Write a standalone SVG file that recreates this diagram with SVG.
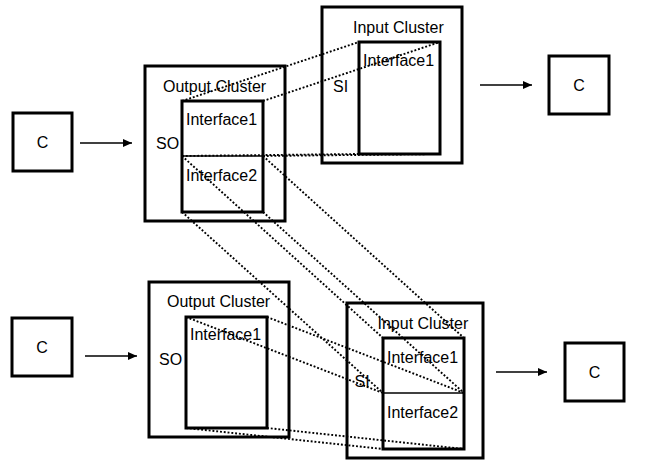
<svg xmlns="http://www.w3.org/2000/svg" width="646" height="473" viewBox="0 0 646 473">
<style>
  .box{fill:none;stroke:#000;stroke-width:3}
  .div{stroke:#000;stroke-width:1.5}
  .lbl{font-family:"Liberation Sans",Arial,sans-serif;font-size:16px;fill:#000}
  .c{font-family:"Liberation Sans",Arial,sans-serif;font-size:16px;fill:#000;text-anchor:middle}
  .dot{fill:none;stroke:#000;stroke-width:1.9;stroke-dasharray:1.9 1.9}
  .arr{fill:none;stroke:#000;stroke-width:1.5}
</style>
<defs>
  <marker id="ah" markerUnits="userSpaceOnUse" markerWidth="10" markerHeight="10" viewBox="0 0 10 10" refX="9" refY="5" orient="auto">
    <path d="M0,1 L9,5 L0,9 Z" fill="#000"/>
  </marker>
</defs>
<rect width="646" height="473" fill="#fff"/>

<g id="c-top-left">
  <rect class="box" x="13" y="113" width="59" height="58"/>
  <text class="c" x="42.5" y="148">C</text>
</g>
<g id="c-bottom-left">
  <rect class="box" x="12" y="318" width="60" height="58"/>
  <text class="c" x="42" y="353">C</text>
</g>
<g id="c-top-right">
  <rect class="box" x="549" y="56" width="60" height="58"/>
  <text class="c" x="579" y="91">C</text>
</g>
<g id="c-bottom-right">
  <rect class="box" x="565" y="343" width="59" height="58"/>
  <text class="c" x="594.5" y="378">C</text>
</g>

<g id="top-output-cluster">
  <rect class="box" x="145" y="66" width="140" height="155"/>
  <text class="lbl" x="163" y="91.5">Output Cluster</text>
  <text class="lbl" x="156" y="149">SO</text>
  <g id="top-output-interfaces">
    <rect class="box" x="182" y="101" width="81" height="111"/>
    <line class="div" x1="182" y1="156" x2="263" y2="156"/>
    <text class="lbl" x="186" y="125">Interface1</text>
    <text class="lbl" x="186" y="181">Interface2</text>
  </g>
</g>

<g id="top-input-cluster">
  <rect class="box" x="322" y="7" width="140" height="156"/>
  <text class="lbl" x="353" y="33">Input Cluster</text>
  <text class="lbl" x="333" y="91.5">SI</text>
  <g id="top-input-interface">
    <rect class="box" x="359" y="42" width="81" height="112"/>
    <text class="lbl" x="363" y="66">Interface1</text>
  </g>
</g>

<g id="bottom-output-cluster">
  <rect class="box" x="149" y="282" width="140" height="155"/>
  <text class="lbl" x="167" y="307">Output Cluster</text>
  <text class="lbl" x="159" y="365">SO</text>
  <g id="bottom-output-interface">
    <rect class="box" x="186" y="317" width="81" height="111"/>
    <text class="lbl" x="190" y="340">Interface1</text>
  </g>
</g>

<g id="bottom-input-cluster">
  <rect class="box" x="347" y="303" width="136" height="155"/>
  <text class="lbl" x="377.5" y="328.5">Input Cluster</text>
  <text class="lbl" x="354.5" y="387">SI</text>
  <g id="bottom-input-interfaces">
    <rect class="box" x="383" y="338" width="81" height="111"/>
    <line class="div" x1="383" y1="393" x2="464" y2="393"/>
    <text class="lbl" x="387" y="362.5">Interface1</text>
    <text class="lbl" x="387" y="418">Interface2</text>
  </g>
</g>

<g id="connectors">
  <line class="arr" x1="80" y1="143" x2="132" y2="143" marker-end="url(#ah)"/>
  <line class="arr" x1="85" y1="356" x2="137" y2="356" marker-end="url(#ah)"/>
  <line class="arr" x1="480" y1="85" x2="532" y2="85" marker-end="url(#ah)"/>
  <line class="arr" x1="496" y1="372" x2="547" y2="372" marker-end="url(#ah)"/>

  <line class="dot" x1="182" y1="101" x2="359" y2="42"/>
  <line class="dot" x1="263" y1="101" x2="440" y2="42"/>
  <line class="dot" x1="182" y1="156" x2="359" y2="154"/>
  <line class="dot" x1="263" y1="156" x2="440" y2="154"/>

  <line class="dot" x1="182" y1="156" x2="383" y2="338"/>
  <line class="dot" x1="263" y1="156" x2="464" y2="338"/>
  <line class="dot" x1="182" y1="212" x2="383" y2="393"/>
  <line class="dot" x1="263" y1="212" x2="464" y2="393"/>

  <line class="dot" x1="186" y1="317" x2="383" y2="393"/>
  <line class="dot" x1="267" y1="317" x2="464" y2="393"/>
  <line class="dot" x1="186" y1="428" x2="383" y2="449"/>
  <line class="dot" x1="267" y1="428" x2="464" y2="449"/>
</g>
</svg>
